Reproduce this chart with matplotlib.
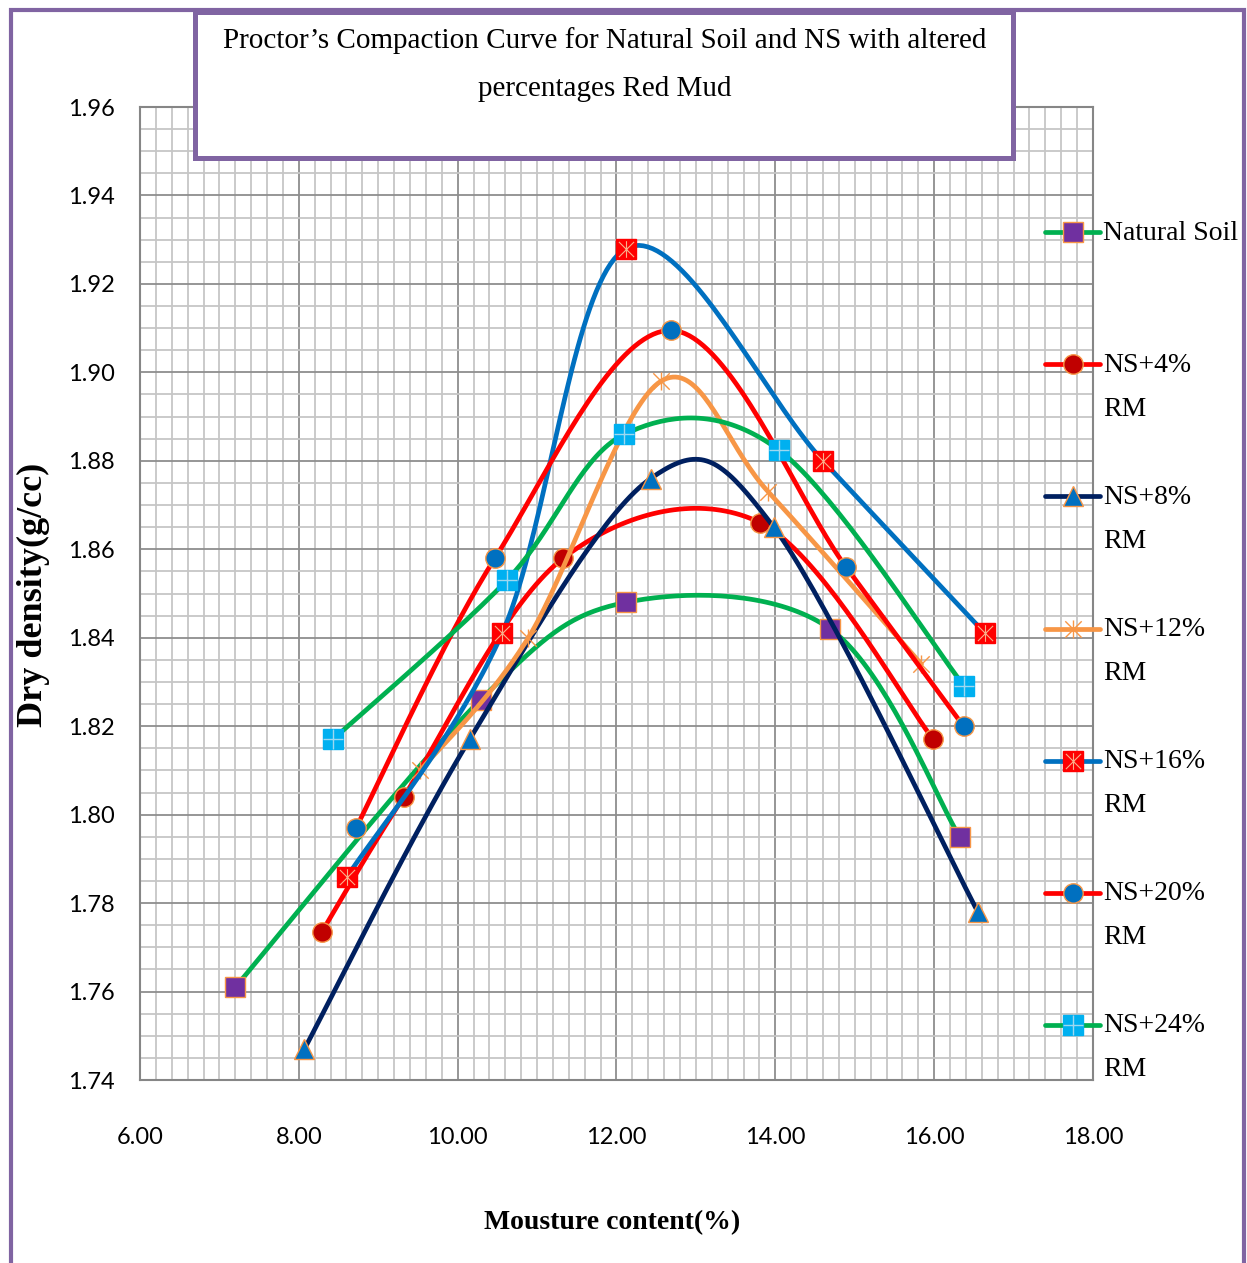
import numpy as np
import matplotlib
matplotlib.use("Agg")
import matplotlib.pyplot as plt
from matplotlib.lines import Line2D
from matplotlib.path import Path
from matplotlib.patches import Rectangle
from matplotlib.ticker import MultipleLocator, FormatStrFormatter
from matplotlib.legend_handler import HandlerLine2D, HandlerTuple

# moisture content (%) / dry density (g/cc)
ns_x = [7.20, 10.29, 12.12, 14.69, 16.32]
ns_y = [1.761, 1.826, 1.848, 1.842, 1.795]
rm4_x = [8.29, 9.32, 11.33, 13.81, 15.99]
rm4_y = [1.7735, 1.804, 1.858, 1.866, 1.817]
rm8_x = [8.07, 10.15, 12.43, 13.98, 16.55]
rm8_y = [1.747, 1.817, 1.876, 1.865, 1.778]
rm12_x = [9.53, 10.89, 12.56, 13.91, 15.84]
rm12_y = [1.810, 1.840, 1.898, 1.873, 1.834]
rm16_x = [8.61, 10.56, 12.12, 14.60, 16.64]
rm16_y = [1.786, 1.841, 1.928, 1.880, 1.841]
rm20_x = [8.72, 10.47, 12.69, 14.89, 16.37]
rm20_y = [1.797, 1.858, 1.9095, 1.856, 1.820]
rm24_x = [8.43, 10.62, 12.10, 14.04, 16.38]
rm24_y = [1.817, 1.853, 1.886, 1.8825, 1.829]

series_labels = ["Natural Soil\n", "NS+4%\nRM", "NS+8%\nRM", "NS+12%\nRM",
                 "NS+16%\nRM", "NS+20%\nRM", "NS+24%\nRM"]

title = "Proctor\u2019s Compaction Curve for Natural Soil and NS with altered\npercentages Red Mud"

W, H = 1247, 1263
SERIF = "Liberation Serif"
ORANGE = "#F79646"
PURPLE = "#8064A2"
LIFT = 16.5


def smooth(xs, ys, n=40):
    # excel style smoothed line (catmull-rom as cubic bezier)
    p = np.column_stack([xs, ys]).astype(float)
    p = np.vstack([p[0], p, p[-1]])
    t = np.linspace(0, 1, n)[:, None]
    out = []
    for i in range(1, len(p) - 2):
        p0, p1, p2, p3 = p[i - 1], p[i], p[i + 1], p[i + 2]
        c1 = p1 + (p2 - p0) / 6
        c2 = p2 - (p3 - p1) / 6
        seg = (1 - t) ** 3 * p1 + 3 * (1 - t) ** 2 * t * c1 + 3 * (1 - t) * t ** 2 * c2 + t ** 3 * p2
        out.append(seg if i == 1 else seg[1:])
    s = np.vstack(out)
    return s[:, 0], s[:, 1]


star = Path([(-1, -1), (1, 1), (-1, 1), (1, -1), (0, -1.1), (0, 1.1)],
            [Path.MOVETO, Path.LINETO] * 3)


class LiftedLine(HandlerLine2D):
    # put the legend symbol next to the first line of the label
    def create_artists(self, legend, orig_handle, xdescent, ydescent, width, height, fontsize, trans):
        arts = super().create_artists(legend, orig_handle, xdescent, ydescent, width, height, fontsize, trans)
        for a in arts:
            a.set_ydata(np.asarray(a.get_ydata(), dtype=float) + LIFT)
        return arts


fig = plt.figure(figsize=(W / 100, H / 100), dpi=100)
ax = fig.add_axes([140 / W, 1 - 1080 / H, (1093 - 140) / W, (1080 - 107) / H])

styles = [
    (ns_x, ns_y, "#00B050", dict(marker="s", ms=14, mfc="#7030A0", mec=ORANGE), None),
    (rm4_x, rm4_y, "#FF0000", dict(marker="o", ms=14, mfc="#C00000", mec=ORANGE), None),
    (rm8_x, rm8_y, "#002060", dict(marker="^", ms=15, mfc="#0070C0", mec=ORANGE), None),
    (rm12_x, rm12_y, ORANGE, dict(marker=star, ms=13, mfc="none", mec=ORANGE, mew=1.0), None),
    (rm16_x, rm16_y, "#0070C0", dict(marker="s", ms=14, mfc="#FF0000", mec="#FF0000"),
     dict(marker=star, ms=12, mfc="none", mec="#F8B08A", mew=0.8)),
    (rm20_x, rm20_y, "#FF0000", dict(marker="o", ms=14, mfc="#0070C0", mec=ORANGE), None),
    (rm24_x, rm24_y, "#00B050", dict(marker="s", ms=14, mfc="#00B0F0", mec="#00B0F0"),
     dict(marker="+", ms=14, mfc="none", mec="#9ED8F0", mew=1.0)),
]

handles = []
for i, (xs, ys, lc, mk, over) in enumerate(styles):
    sx, sy = smooth(xs, ys)
    ax.plot(sx, sy, color=lc, lw=3.4, solid_capstyle="round", zorder=3 + 3 * i)
    mk = dict(mk)
    mk.setdefault("mew", 1.0)
    ax.plot(xs, ys, ls="none", zorder=4 + 3 * i, **mk)
    h = Line2D([], [], color=lc, lw=3.4, solid_capstyle="round", **mk)
    if over is not None:
        ax.plot(xs, ys, ls="none", zorder=5 + 3 * i, **over)
        h = (h, Line2D([], [], ls="none", **over))
    handles.append(h)

ax.set_xlim(6, 18)
ax.set_ylim(1.74, 1.96)
ax.xaxis.set_major_locator(MultipleLocator(2))
ax.xaxis.set_minor_locator(MultipleLocator(0.2))
ax.yaxis.set_major_locator(MultipleLocator(0.02))
ax.yaxis.set_minor_locator(MultipleLocator(0.005))
ax.xaxis.set_major_formatter(FormatStrFormatter("%.2f"))
ax.yaxis.set_major_formatter(FormatStrFormatter("%.2f"))
ax.set_axisbelow(True)
ax.grid(which="minor", color="#C6C6C6", lw=1.3)
ax.grid(which="major", color="#8E8E8E", lw=1.3)
ax.tick_params(which="both", length=0)
ax.tick_params(axis="x", pad=34)
ax.tick_params(axis="y", pad=18)
for lab in ax.get_xticklabels() + ax.get_yticklabels():
    lab.set_family("Lato")
    lab.set_fontsize(17)
for sp in ax.spines.values():
    sp.set_color("#868686")
    sp.set_linewidth(1.5)

ax.set_xlabel("Mousture content(%)", family=SERIF, fontsize=20, fontweight="bold")
ax.set_ylabel("Dry density(g/cc)", family=SERIF, fontsize=26, fontweight="bold")
ax.xaxis.set_label_coords((612 - 140) / 953, (1080 - 1223) / 973)
ax.yaxis.set_label_coords((33 - 140) / 953, (1080 - 595) / 973)
ax.xaxis.label.set_va("center")
ax.yaxis.label.set_va("center")

leg = fig.legend(handles, series_labels, loc="upper left",
                 bbox_to_anchor=(1045 / W, 1 - 221 / H), frameon=False,
                 prop=dict(family=SERIF, size=20), handlelength=1.98,
                 handletextpad=0.12, labelspacing=2.27, borderpad=0, borderaxespad=0,
                 handler_map={Line2D: LiftedLine(), tuple: HandlerTuple(ndivide=1)})
for t in leg.get_texts():
    t.set_linespacing(2.0)

# outer chart border and title box
fig.add_artist(Rectangle((10.5 / W, -0.05), (1244 - 10.5) / W, 1.05 - 10 / H,
                         transform=fig.transFigure, fill=False, ec=PURPLE, lw=3, clip_on=False))
fig.add_artist(Rectangle((195 / W, 1 - 158 / H), (1013 - 195) / W, (158 - 12) / H,
                         transform=fig.transFigure, fc="white", ec=PURPLE, lw=3.6, zorder=5))
fig.text(605 / W, 1 - 64.5 / H, title, ha="center", va="center", family=SERIF,
         fontsize=21, linespacing=2.1, zorder=6)

fig.savefig("out.png", dpi=100)
